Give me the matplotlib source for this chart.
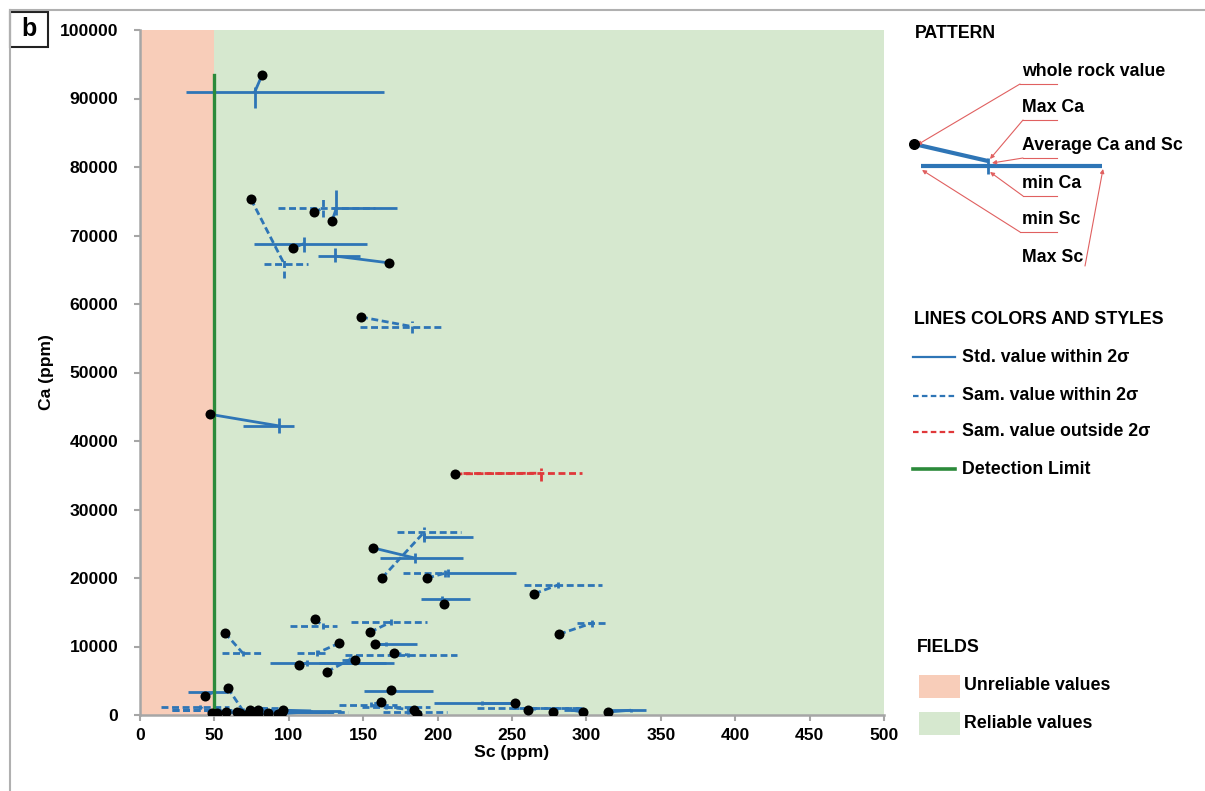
import matplotlib
matplotlib.use("Agg")
import matplotlib.pyplot as plt
from matplotlib.patches import Rectangle
import numpy as np

plt.rcParams['font.family'] = ['Liberation Sans', 'DejaVu Sans']
plt.rcParams['font.weight'] = 'bold'

# ---------------- data ----------------
# whole-rock value, average, Sc range, Ca range and line style of each sample
wr_sc  = [82, 74.6, 117, 129, 103, 167.5, 148.5, 47, 212,
          162.6, np.nan, 156.6, 193, np.nan, 204, 265, 281.6, 154.6, 117.6, 57, 134, 158, 171,
          125.6, 107, 144.6, 43.7, 59, 168.7, 252, 162, 184, 186, 261, 277.6, 298, 314.5,
          48.4, 52, 58, 65, 67, 72.6, 74, 77, 79, 79, 86, 92.7, 95.5, 96]
wr_ca  = [93400, 75300, 73400, 72100, 68200, 66000, 58100, 43900, 35200,
          20000, np.nan, 24400, 20000, np.nan, 16200, 17700, 11800, 12100, 14000, 12000, 10500, 10400, 9050,
          6300, 7300, 8000, 2800, 3950, 3650, 1750, 1900, 730, 150, 730, 440, 440, 440,
          300, 300, 400, 400, 300, 200, 700, 300, 800, 200, 300, 200, 500, 700]
avg_sc = [77, 96.8, 123, 132, 110, 131, 183, 93.5, 269.5,
          191, 191, 185, 205, 207, 203, 281, 303.6, 169, 123, 69, 119, 165, 180,
          141, 112, 140, 50, 69, 170, 230, 155, 165, 180, 265, 280, 290, 330,
          40, 60, 78, 82, 92, 86, 80, 88, 84, 100, 105, 110, 100, 115]
avg_ca = [90900, 65900, 74000, 74000, 68800, 67000, 56700, 42200, 35300,
          26700, 25950, 22900, 20700, 20700, 16950, 19000, 13400, 13600, 13000, 9050, 9050, 10400, 8760,
          8100, 7600, 7650, 3350, 700, 3500, 1750, 1500, 1170, 440, 1000, 1000, 700, 700,
          1170, 700, 450, 650, 450, 550, 900, 450, 1000, 400, 500, 400, 650, 600]
min_sc = [31, 83, 93, 130, 76.6, 119.8, 148, 69, 217,
          172.5, 191, 161, 176.5, 207, 189, 258, 293.6, 141.8, 100.8, 55, 105.5, 158, 138,
          136, 87.4, 120, 32, 21.5, 150.5, 197.6, 134, 149, 163, 226.5, 250, 285, 314.5,
          14, 21.5, 50, 62, 70, 72, 74, 70, 74, 85, 90, 95, 88, 100]
max_sc = [164, 113, 158, 172.6, 152.5, 148, 203.6, 103.5, 297,
          215.7, 224, 217, 207, 252.7, 222, 310.5, 314.5, 192.6, 132.4, 82, 126.3, 186, 213,
          148, 170.7, 165, 59, 90, 197, 250, 172.7, 195, 206, 297.7, 297, 300, 340,
          60, 75, 110, 96, 120, 100, 90, 125, 95, 130, 140, 120, 115, 135]
min_ca = [88600, 63800, 72700, 73000, 67600, 66100, 55800, 41200, 34200,
          25500, 25300, 22200, 20200, 20100, 16400, 18500, 12900, 13100, 12600, 8600, 8600, 10100, 8400,
          7800, 7200, 7400, 3100, 400, 3200, 1500, 1200, 900, 200, 800, 800, 600, 500,
          900, 500, 300, 450, 300, 350, 700, 300, 800, 250, 300, 250, 450, 400]
max_ca = [91700, 66900, 75800, 76600, 69800, 68200, 57500, 43400, 36100,
          27500, 26600, 23600, 21200, 21300, 17400, 19400, 13900, 14000, 13500, 9400, 9500, 10700, 9100,
          8400, 8000, 7900, 3600, 1000, 3800, 2000, 1900, 1400, 700, 1200, 1200, 800, 900,
          1400, 900, 600, 850, 600, 750, 1100, 600, 1200, 550, 700, 550, 850, 800]
kind   = ['std', 'sam', 'sam', 'std', 'std', 'std', 'sam', 'std', 'out',
          'sam', 'std', 'std', 'sam', 'std', 'std', 'sam', 'sam', 'sam', 'sam', 'sam', 'sam', 'std', 'sam',
          'sam', 'std', 'std', 'std', 'sam', 'std', 'std', 'sam', 'sam', 'sam', 'sam', 'sam', 'std', 'std',
          'sam', 'sam', 'std', 'sam', 'std', 'sam', 'sam', 'std', 'sam', 'std', 'sam', 'std', 'sam', 'std']

detection_limit = 50
detection_top = 93500
x_ticks = [0, 50, 100, 150, 200, 250, 300, 350, 400, 450, 500]
y_ticks = [0, 10000, 20000, 30000, 40000, 50000, 60000, 70000, 80000, 90000, 100000]

# ---------------- styles ----------------
BLUE = '#2e75b6'
RED = '#e0383a'
GREEN = '#2b8a3a'
PINK_BG = '#f8cdb9'
GREEN_BG = '#d6e8cf'
GRAY = '#a6a6a6'
DASH = (2.5, 1.3)

W, H = 1205, 791
fig = plt.figure(figsize=(W / 100, H / 100), dpi=100)
fig.patch.set_facecolor('white')

ax = fig.add_axes([140 / W, 76 / H, 744 / W, 685 / H])
ax.set_xlim(0, 500)
ax.set_ylim(0, 100000)
ax.axvspan(0, detection_limit, color=PINK_BG, zorder=0, lw=0)
ax.axvspan(detection_limit, 500, color=GREEN_BG, zorder=0, lw=0)

def style(k):
    if k == 'std':
        return dict(color=BLUE, lw=2.0, linestyle='-')
    if k == 'sam':
        return dict(color=BLUE, lw=2.0, linestyle=(0, DASH))
    return dict(color=RED, lw=2.0, linestyle=(0, DASH))

for i in range(len(kind)):
    st = style(kind[i])
    ax.plot([min_sc[i], max_sc[i]], [avg_ca[i], avg_ca[i]], zorder=3, solid_capstyle='butt', **st)
    ax.plot([avg_sc[i], avg_sc[i]], [min_ca[i], max_ca[i]], zorder=3, solid_capstyle='butt', **st)
    if not np.isnan(wr_sc[i]):
        ax.plot([wr_sc[i], avg_sc[i]], [wr_ca[i], avg_ca[i]], zorder=3, solid_capstyle='butt', **st)

ax.plot([detection_limit, detection_limit], [0, detection_top], color=GREEN, lw=2.4, zorder=4)
ax.scatter(wr_sc, wr_ca, s=52, color='black', zorder=5, linewidths=0)

ax.set_xticks(x_ticks)
ax.set_yticks(y_ticks)
ax.set_xticklabels([str(v) for v in x_ticks], fontsize=12.6, fontweight='bold')
ax.set_yticklabels([str(v) for v in y_ticks], fontsize=12.6, fontweight='bold')
ax.tick_params(axis='both', direction='out', length=4.5, width=1.5, color=GRAY)
ax.tick_params(axis='y', pad=11)
ax.tick_params(axis='x', pad=5)
for s in ['top', 'right']:
    ax.spines[s].set_visible(False)
for s in ['left', 'bottom']:
    ax.spines[s].set_color(GRAY)
    ax.spines[s].set_linewidth(1.8)
ax.set_xlabel('Sc (ppm)', fontsize=12.6, fontweight='bold', labelpad=1)
ax.set_ylabel('Ca (ppm)', fontsize=12.6, fontweight='bold', labelpad=4)

# ---------------- overlay (frame, panel label, legends) ----------------
lax = fig.add_axes([0, 0, 1, 1], zorder=10)
lax.set_xlim(0, W)
lax.set_ylim(H, 0)
lax.axis('off')
lax.patch.set_alpha(0)

lax.plot([10, 10], [10, H], color='#b0b0b0', lw=1.5)
lax.plot([10, W], [10, 10], color='#b0b0b0', lw=1.5)
lax.add_patch(Rectangle((10, 12), 38, 35, fill=True, facecolor='white', edgecolor='#222222', lw=1.5))
lax.text(29, 29, 'b', fontsize=18, fontweight='bold', ha='center', va='center')

FS = 12.8
lax.text(915, 33, 'PATTERN', fontsize=FS, fontweight='bold', va='center')
# schematic pattern
lax.plot([914, 988], [144, 161], color=BLUE, lw=3, solid_capstyle='butt')
lax.plot([921, 1102], [166, 166], color=BLUE, lw=3, solid_capstyle='butt')
lax.plot([988, 988], [158, 174], color=BLUE, lw=2, solid_capstyle='butt')
lax.scatter([914], [144], s=48, color='black', zorder=5)

labels = ['whole rock value', 'Max Ca', 'Average Ca and Sc', 'min Ca', 'min Sc', 'Max Sc']
label_y = [72, 107, 146, 184, 220, 258]
anchor = [(1020, 84), (1023, 120), (1023, 158), (1023, 196), (1020, 232), (1085, 266)]
ul_end = [1057, 1057, 1057, 1057, 1057, 1085]
target = [(917, 145), (990, 159), (992, 163), (990, 172), (922, 170), (1103, 169)]
for t, y, a, u, tg in zip(labels, label_y, anchor, ul_end, target):
    lax.text(1022, y, t, fontsize=FS, fontweight='bold', va='center')
    lax.plot([a[0], u], [a[1], a[1]], color='#e06060', lw=0.8)
    lax.annotate('', xy=tg, xytext=a,
                 arrowprops=dict(arrowstyle='-|>', color='#e06060', lw=0.8,
                                 mutation_scale=6, shrinkA=0, shrinkB=0))

lax.text(914, 320, 'LINES COLORS AND STYLES', fontsize=FS, fontweight='bold', va='center')
leg_y = [357, 396, 432, 469]
leg_txt = ['Std. value within 2σ', 'Sam. value within 2σ', 'Sam. value outside 2σ', 'Detection Limit']
leg_sty = [dict(color=BLUE, lw=1.6, linestyle='-'),
           dict(color=BLUE, lw=1.6, linestyle=(0, (2.5, 1.5))),
           dict(color=RED, lw=1.6, linestyle=(0, (2.5, 1.5))),
           dict(color=GREEN, lw=2.6, linestyle='-')]
for y, t, st in zip(leg_y, leg_txt, leg_sty):
    lax.plot([913, 955], [y, y], **st)
    lax.text(962, y, t, fontsize=FS, fontweight='bold', va='center')

lax.text(917, 648, 'FIELDS', fontsize=FS, fontweight='bold', va='center')
lax.add_patch(Rectangle((919, 675), 41, 23, facecolor=PINK_BG, edgecolor='none'))
lax.add_patch(Rectangle((919, 712), 41, 23, facecolor=GREEN_BG, edgecolor='none'))
lax.text(964, 686, 'Unreliable values', fontsize=FS, fontweight='bold', va='center')
lax.text(964, 723, 'Reliable values', fontsize=FS, fontweight='bold', va='center')

fig.savefig('out.png', dpi=100)
